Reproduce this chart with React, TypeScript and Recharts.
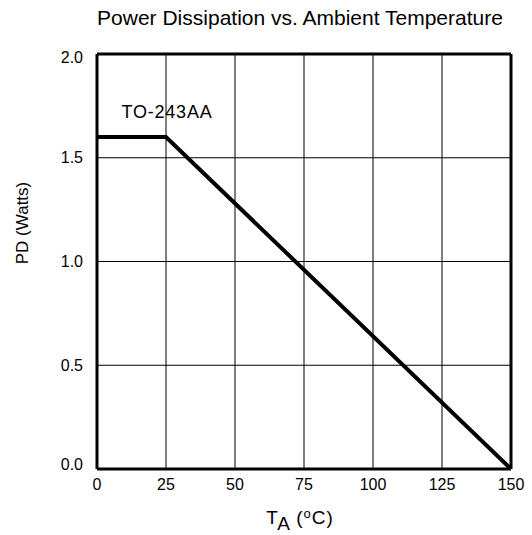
import React from 'react';
import { LineChart, Line, XAxis, YAxis, CartesianGrid, ReferenceLine } from 'recharts';

const temperatures = [0, 25, 150];
const powerWatts = [1.6, 1.6, 0];
const xTicks = [0, 25, 50, 75, 100, 125, 150];
const yTicks = [0, 0.5, 1.0, 1.5, 2.0];
const title = 'Power Dissipation vs. Ambient Temperature';
const seriesLabel = 'TO-243AA';

const data = temperatures.map((t, i) => ({ t, p: powerWatts[i] }));

const FONT = 'Liberation Sans, Arial, Helvetica, sans-serif';

const YTick = (props: any) => {
  const { x, y, payload } = props;
  const v = payload.value as number;
  const shift = v === 0 ? -5 : v === 2 ? 3 : 0;
  return (
    <text x={x} y={y + shift} dy="0.355em" textAnchor="end" fontSize={16} fontFamily={FONT} fill="#000">
      {v.toFixed(1)}
    </text>
  );
};

export default function App() {
  return (
    <div style={{ position: 'absolute', left: 0, top: 0, width: 532, height: 535, background: '#fff' }}>
      <LineChart width={532} height={535} data={data} margin={{ top: 54, right: 21, bottom: 0, left: 0 }}>
        <CartesianGrid stroke="#000" strokeWidth={1} horizontalValues={yTicks} verticalValues={xTicks} />
        <XAxis
          dataKey="t"
          type="number"
          domain={[0, 150]}
          ticks={xTicks}
          height={66}
          tickLine={false}
          tickMargin={4}
          axisLine={{ stroke: '#000', strokeWidth: 3 }}
          tick={{ fill: '#000', fontSize: 16, fontFamily: FONT }}
          allowDataOverflow
        />
        <YAxis
          type="number"
          domain={[0, 2]}
          ticks={yTicks}
          width={97}
          tickLine={false}
          tickMargin={8}
          axisLine={{ stroke: '#000', strokeWidth: 3 }}
          tick={<YTick />}
          allowDataOverflow
        />
        <ReferenceLine y={2} stroke="#000" strokeWidth={3} ifOverflow="visible" />
        <ReferenceLine x={150} stroke="#000" strokeWidth={3} ifOverflow="visible" />
        <Line
          type="linear"
          dataKey="p"
          stroke="#000"
          strokeWidth={4}
          dot={false}
          activeDot={false}
          strokeLinecap="round"
          isAnimationActive={false}
        />
        <text x={300} y={25} textAnchor="middle" fontSize={21} fontFamily={FONT} fill="#000">{title}</text>
        <text x={167} y={118} textAnchor="middle" fontSize={18} letterSpacing={0.8} fontFamily={FONT} fill="#000">{seriesLabel}</text>
        <text x={300} y={524} textAnchor="middle" fontSize={19} letterSpacing={1} fontFamily={FONT} fill="#000">
          T<tspan dy={6}>A</tspan>
          <tspan dy={-6}> (</tspan>
          <tspan dy={-6} fontSize={13}>o</tspan>
          <tspan dy={6}>C)</tspan>
        </text>
        <text x={28} y={223} textAnchor="middle" fontSize={17} fontFamily={FONT} fill="#000" transform="rotate(-90 28 223)">PD (Watts)</text>
      </LineChart>
    </div>
  );
}
